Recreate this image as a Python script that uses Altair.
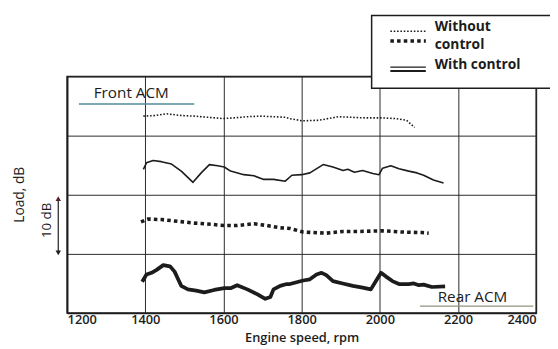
import altair as alt
import pandas as pd

# ---- data (rpm, load in dB, arbitrary zero) ----
front_wo_rpm = [1395, 1425, 1454, 1492, 1526, 1560, 1597, 1627, 1661, 1694, 1728, 1758, 1768,
                1802, 1844, 1869, 1894, 1928, 1962, 2004, 2038, 2068, 2089]
front_wo_db = [33.3, 33.4, 33.7, 33.4, 33.3, 33.1, 32.9, 33.0, 33.2, 33.3, 33.2, 33.1, 32.9,
               32.5, 32.6, 32.9, 33.2, 33.1, 33.0, 33.0, 32.9, 32.6, 31.4]

front_w_rpm = [1395, 1403, 1420, 1441, 1467, 1492, 1522, 1543, 1564, 1585, 1602, 1618, 1652,
               1678, 1703, 1728, 1758, 1775, 1800, 1821, 1855, 1880, 1906, 1918, 1935, 1956,
               1982, 1998, 2007, 2028, 2049, 2074, 2095, 2112, 2137, 2163]
front_w_db = [24.3, 25.4, 25.8, 25.6, 25.2, 24.0, 22.1, 23.7, 25.1, 24.9, 24.7, 24.0, 23.4,
              23.2, 22.6, 22.6, 22.3, 23.3, 23.4, 23.7, 25.1, 24.7, 24.1, 24.3, 23.8, 24.1,
              23.6, 23.4, 24.5, 24.9, 24.4, 24.0, 23.7, 23.3, 22.5, 22.0]

rear_wo_rpm = [1389, 1408, 1441, 1484, 1526, 1568, 1602, 1635, 1678, 1711, 1745, 1770, 1804,
               1863, 1906, 1948, 2007, 2057, 2108, 2125]
rear_wo_db = [15.4, 15.9, 15.8, 15.5, 15.2, 15.0, 14.8, 14.8, 15.1, 14.8, 14.4, 14.3, 13.7,
              13.5, 13.8, 13.8, 13.9, 13.7, 13.6, 13.5]

rear_w_rpm = [1392, 1403, 1416, 1429, 1446, 1463, 1475, 1484, 1492, 1509, 1530, 1551, 1576,
              1602, 1618, 1635, 1661, 1686, 1707, 1720, 1728, 1745, 1762, 1770, 1804, 1821,
              1838, 1851, 1863, 1880, 1905, 1931, 1956, 1977, 1990, 2003, 2015, 2032, 2049,
              2074, 2087, 2100, 2112, 2133, 2167]
rear_w_db = [5.3, 6.5, 6.8, 7.3, 8.1, 7.9, 7.0, 5.7, 4.6, 4.0, 3.8, 3.5, 3.9,
             4.2, 4.2, 4.7, 4.0, 3.2, 2.4, 2.7, 4.0, 4.6, 4.9, 4.9, 5.5, 5.7,
             6.5, 6.8, 6.4, 5.4, 5.0, 4.6, 4.3, 4.0, 5.4, 6.8, 6.2, 5.4, 4.9,
             4.9, 5.0, 4.7, 4.8, 4.4, 4.5]

x_ticks = [1200, 1400, 1600, 1800, 2000, 2200, 2400]
y_ticks = [0, 10, 20, 30, 40]

INK = "#1c1c1c"
FONT = "Open Sans"

xs = alt.Scale(domain=[1200, 2400], nice=False)
ys = alt.Scale(domain=[0, 40], nice=False)


def series(rpm, db, width, dash=None):
    df = pd.DataFrame({"rpm": rpm, "load": db})
    kw = dict(color=INK, strokeWidth=width, strokeJoin="round", strokeCap="butt")
    if dash:
        kw["strokeDash"] = dash
    return alt.Chart(df).mark_line(**kw).encode(
        x=alt.X("rpm:Q", scale=xs,
                axis=alt.Axis(values=x_ticks, title="Engine speed, rpm", grid=True,
                              ticks=False, labelPadding=1, format="d",
                              titlePadding=5)),
        y=alt.Y("load:Q", scale=ys,
                axis=alt.Axis(values=y_ticks, labels=False, ticks=False, title=None,
                              grid=True)),
    )


lines = [
    series(front_wo_rpm, front_wo_db, 1.6, [1.6, 1.8]),
    series(front_w_rpm, front_w_db, 1.6),
    series(rear_wo_rpm, rear_wo_db, 3.6, [3.6, 3.2]),
    series(rear_w_rpm, rear_w_db, 3.8),
]

one = pd.DataFrame({"k": [0]})
base = alt.Chart(one)

# annotation decorations (pixel positions relative to the plot area)
legend_box = base.mark_rect(fill="white", stroke=INK, strokeWidth=1.5).encode(
    x=alt.value(309), x2=alt.value(520), y=alt.value(-62), y2=alt.value(12))
leg_dot = base.mark_rule(color=INK, strokeWidth=1.5, strokeDash=[1.6, 1.8]).encode(
    x=alt.value(328), x2=alt.value(364), y=alt.value(-46))
leg_dash = base.mark_rule(color=INK, strokeWidth=3.6, strokeDash=[3.6, 3.2]).encode(
    x=alt.value(328), x2=alt.value(364), y=alt.value(-36))
leg_s1 = base.mark_rule(color=INK, strokeWidth=1.4).encode(
    x=alt.value(328), x2=alt.value(364), y=alt.value(-9.5))
leg_s2 = base.mark_rule(color=INK, strokeWidth=2).encode(
    x=alt.value(328), x2=alt.value(364), y=alt.value(-5.5))


def txt(s, x, y, size=13.5, weight=600, angle=None, align="left"):
    kw = dict(text=s, font=FONT, fontSize=size, fontWeight=weight, color=INK,
              align=align, baseline="middle")
    if angle is not None:
        kw["angle"] = angle
    return base.mark_text(**kw).encode(x=alt.value(x), y=alt.value(y))


leg_t1 = txt("Without", 373, -50, size=14, weight=700)
leg_t2 = txt("control", 373, -32, size=14, weight=700)
leg_t3 = txt("With control", 373, -12, size=14, weight=700)

front_t = txt("Front ACM", 27, 17, size=15.5, weight=500)
front_u = base.mark_rule(color="#4f8c9a", strokeWidth=1.5).encode(
    x=alt.value(12), x2=alt.value(129), y=alt.value(28))
rear_t = txt("Rear ACM", 376, 224, size=15.5, weight=500)
rear_u = base.mark_rule(color="#8f9580", strokeWidth=1.5).encode(
    x=alt.value(358), x2=alt.value(473), y=alt.value(233))

load_t = txt("Load, dB", -48, 120, size=14, weight=500, angle=270, align="center")
ten_t = txt("10 dB", -20, 146, size=13.5, weight=500, angle=270, align="center")
arrow = base.mark_rule(color=INK, strokeWidth=1.2).encode(
    x=alt.value(-9), y=alt.value(125), y2=alt.value(177))
arr_up = base.mark_point(shape="triangle-up", filled=True, size=30, color="#5a1f25",
                         opacity=1).encode(x=alt.value(-9), y=alt.value(124))
arr_dn = base.mark_point(shape="triangle-down", filled=True, size=30, color=INK,
                         opacity=1).encode(x=alt.value(-9), y=alt.value(179))

chart = alt.layer(
    *lines,
    front_u, front_t, rear_u, rear_t,
    legend_box, leg_dot, leg_dash, leg_s1, leg_s2, leg_t1, leg_t2, leg_t3,
    load_t, ten_t, arrow, arr_up, arr_dn,
).properties(
    width=476, height=240,
    background="white",
    autosize=alt.AutoSizeParams(type="none"),
    padding={"left": 60, "top": 67, "right": 14, "bottom": 34},
).configure_view(
    stroke=INK, strokeWidth=1.6
).configure_axis(
    gridColor="#2a2a2a", gridWidth=1, gridOpacity=1,
    domainColor=INK, domainWidth=1.6,
    labelFont=FONT, labelFontSize=13, labelFontWeight=600, labelColor=INK,
    titleFont=FONT, titleFontSize=13, titleFontWeight=600, titleColor=INK,
)

chart.save("out.html", embed_options={"renderer": "svg", "actions": False})
